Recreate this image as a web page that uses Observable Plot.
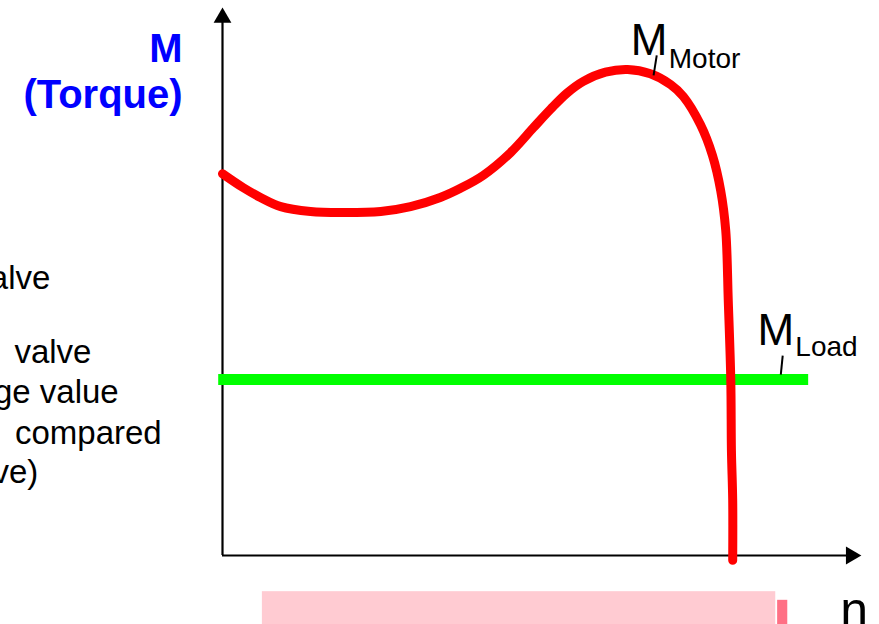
<!DOCTYPE html>
<html><head><meta charset="utf-8">
<script src="https://cdn.jsdelivr.net/npm/d3@7"></script>
<script src="https://cdn.jsdelivr.net/npm/@observablehq/plot@0.6"></script>
<style>
body{margin:0;background:#fff;}
#chart{position:relative;width:879px;height:624px;overflow:hidden;background:#fff;}
#chart svg{overflow:visible;}
</style>
</head><body><div id="chart"></div>
<script>
// Motor torque curve M_Motor(n), in relative units (n: 0–100, M: 0–100)
const speed = [0, 3.3, 6.0, 9.2, 13.9, 18.6, 25.0, 29.7, 34.4, 37.6, 41.2, 45.5, 49.1, 51.8, 54.4, 57.0, 60.5, 64.0, 67.6, 70.8, 72.8, 75.5, 77.4, 78.7, 79.5, 79.9, 80.3, 80.4, 80.6, 80.6];
const motorTorque = [70.7, 68.1, 66.3, 64.6, 63.7, 63.5, 63.7, 64.6, 66.3, 68.0, 70.4, 74.6, 79.2, 82.6, 85.6, 87.8, 89.5, 90.0, 89.2, 87.2, 85.0, 79.8, 74.1, 67.6, 60.2, 47.2, 32.4, 19.4, 10.2, -0.9];
// Load torque M_Load (constant)
const loadTorque = 32.6;
const loadFrom = -0.6;
const loadTo = 92.6;
// Axis extents
const axisEnd = 100;
// Left side text fragments (cut off in the source slide)
const sideLines = ["alve", "valve", "ge value", "compared", "ve)"];
const sideLineY = [49.3, 35.7, 28.3, 20.7, 13.5];
const sideLineX = [-27.2, -20.7, -16.4, -9.6, -29.1];
// Bottom progress bar (slide decoration)
const barFrom = [6.3, 87.7];
const barTo = [87.4, 89.3];
const barTop = [-6.7, -8.3];
const barColor = ["#ffcbd2", "#ff7085"];

const motor = speed.map((n, i) => ({n, m: motorTorque[i]}));
const side = sideLines.map((t, i) => ({t, x: sideLineX[i], y: sideLineY[i]}));
const bars = barFrom.map((x1, i) => ({x1, x2: barTo[i], y1: -16, y2: barTop[i], c: barColor[i]}));

const font = "'Liberation Sans', Arial, Helvetica, sans-serif";

const plot = Plot.plot({
  width: 879,
  height: 624,
  marginLeft: 222,
  marginRight: 24,
  marginTop: 15,
  marginBottom: 69,
  x: {domain: [0, 100], axis: null},
  y: {domain: [0, 100], axis: null},
  style: {fontFamily: font, background: "#fff", overflow: "visible"},
  marks: [
    Plot.rect(bars, {x1: "x1", x2: "x2", y1: "y1", y2: "y2", fill: "c", clip: false}),
    // axes with arrowheads
    Plot.ruleX([0], {y1: 0, y2: axisEnd - 1.3, stroke: "black", strokeWidth: 2.2}),
    Plot.ruleY([0], {x1: 0, x2: axisEnd - 1.4, stroke: "black", strokeWidth: 2.2}),
    Plot.dot([0], {x: 0, y: axisEnd - 0.4, symbol: "triangle2", r: 8.5, fill: "black", stroke: "none"}),
    Plot.dot([0], {x: axisEnd - 0.7, y: 0, symbol: "triangle2", r: 8.5, fill: "black", stroke: "none", rotate: 90}),
    // load torque
    Plot.ruleY([loadTorque], {x1: loadFrom, x2: loadTo, stroke: "#00ff00", strokeWidth: 11, clip: false}),
    // motor torque
    Plot.line(motor, {x: "n", y: "m", stroke: "#ff0000", strokeWidth: 9, curve: "catmull-rom", strokeLinecap: "round", strokeLinejoin: "round", clip: false}),
    // label leader ticks
    Plot.link([{x1: 68.6, y1: 92.6, x2: 68.1, y2: 88.9}, {x1: 88.5, y1: 37.0, x2: 88.2, y2: 33.5}], {x1: "x1", y1: "y1", x2: "x2", y2: "y2", stroke: "black", strokeWidth: 2}),
    // labels
    Plot.text(["M"], {x: 64.5, y: 92.6, text: d => d, fontSize: 44, textAnchor: "start", lineAnchor: "bottom", fill: "black"}),
    Plot.text(["Motor"], {x: 70.5, y: 90.2, text: d => d, fontSize: 28, textAnchor: "start", lineAnchor: "bottom", fill: "black"}),
    Plot.text(["M"], {x: 84.5, y: 38.9, text: d => d, fontSize: 44, textAnchor: "start", lineAnchor: "bottom", fill: "black"}),
    Plot.text(["Load"], {x: 90.5, y: 37.0, text: d => d, fontSize: 28, textAnchor: "start", lineAnchor: "bottom", fill: "black"}),
    Plot.text(["M"], {x: -6.3, y: 91.3, text: d => d, fontSize: 40, fontWeight: "bold", textAnchor: "end", lineAnchor: "bottom", fill: "#0000ff"}),
    Plot.text(["(Torque)"], {x: -6.3, y: 82.8, text: d => d, fontSize: 40, fontWeight: "bold", textAnchor: "end", lineAnchor: "bottom", fill: "#0000ff"}),
    Plot.text(side, {x: "x", y: "y", text: "t", fontSize: 33, textAnchor: "end", lineAnchor: "bottom", fill: "black"}),
    Plot.text(["n"], {x: 97.6, y: -13.2, text: d => d, fontSize: 50, textAnchor: "start", lineAnchor: "bottom", fill: "black"})
  ]
});
document.getElementById("chart").appendChild(plot);
</script>
</body></html>
